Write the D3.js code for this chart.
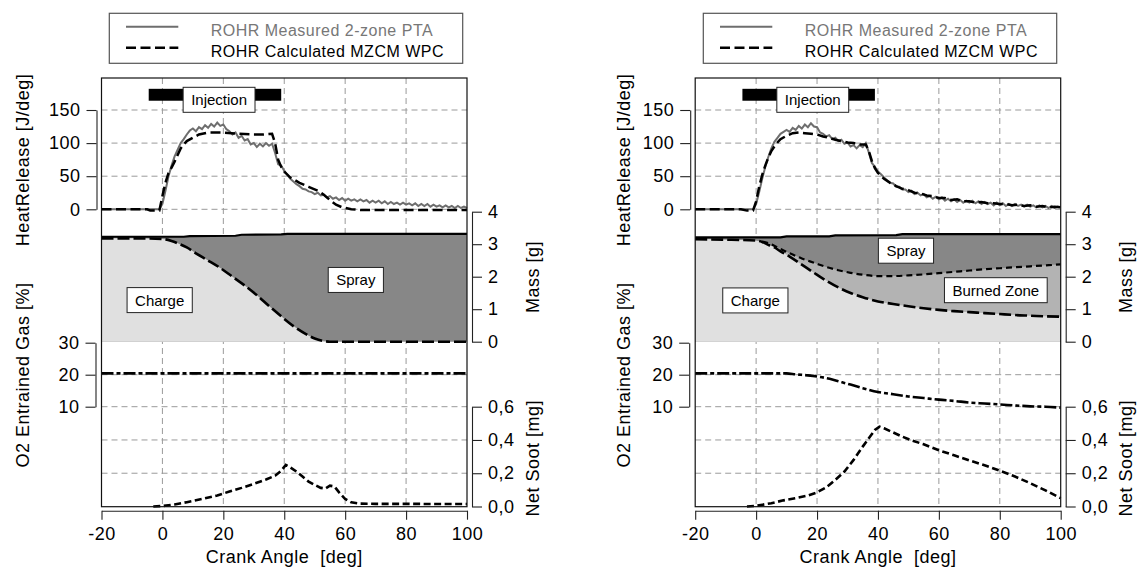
<!DOCTYPE html>
<html>
<head>
<meta charset="utf-8">
<script src="https://cdn.jsdelivr.net/npm/d3@7"></script>
<style>
  body { margin: 0; background: #fff; }
  svg { display: block; font-family: "Liberation Sans", Arial, Helvetica, sans-serif; }
  text { white-space: pre; }
</style>
</head>
<body>
<svg id="chart" width="1144" height="568"></svg>
<script>
// ---- tick values and labels ----
const crankTicks = [-20, 0, 20, 40, 60, 80, 100];
const crankGrid = [0, 20, 40, 60, 80];
const heatTicks = [0, 50, 100, 150];
const massTicks = [0, 1, 2, 3, 4];
const o2Ticks = [10, 20, 30];
const sootTicks = [0, 0.2, 0.4, 0.6];
const sootTickLabels = ["0,0", "0,2", "0,4", "0,6"];
const legendLabels = ["ROHR Measured 2-zone PTA", "ROHR Calculated MZCM WPC"];
const injection = [-4.5, 39];   // start / end of injection [deg]

// ---- measured rate of heat release, 1 deg steps from -20 to 100 deg ----
const measuredStart = -20;
const rohrMeasuredLeft = [
  0,0,0,0,0,0,0,0,0,0,0,0,0,0,0,0,0,0,0,0,
  8,28,50,66,80,90,100,106,113,119,122,118,124,121,127,123,129,125,131,126,
  128,121,118,113,116,108,111,104,106,98,100,94,99,95,100,96,99,85,68,66,
  58,52,46,42,38,35,31,30,27,26,23,25,21,22,18,20,16,18,14,17,
  13,16,13,15,12,15,12,14,10,13,10,13,9,12,8,11,8,10,7,10,
  7,9,6,9,5,8,5,8,4,7,4,6,3,6,3,5,2,5,2,4,2
];
const rohrMeasuredRight = [
  0,0,0,0,0,0,0,0,0,0,0,0,0,0,0,0,0,0,0,0,
  8,26,46,64,79,92,102,108,114,117,120,117,123,120,126,122,128,124,130,125,
  124,116,114,110,112,106,108,103,105,99,101,95,97,92,97,94,100,86,70,64,
  57,53,48,44,40,39,34,34,30,30,26,28,23,25,21,23,18,20,16,19,
  15,18,13,16,12,15,11,14,10,13,10,13,9,12,8,11,8,10,6,10,
  6,9,5,8,5,8,5,7,4,7,4,6,3,6,3,5,2,5,2,4,3
];

// ---- calculated rate of heat release [deg, J/deg] ----
const rohrCalcLeft = [
  [-20,0],[-5,0],[-4,-2],[-1,-2],[0,20],[1,40],[2,55],[3,63],[4,72],[5,82],[6,92],[7,98],
  [8,103],[10,108],[12,113],[15,116],[20,116],[25,114],[30,113],[33,113],[36,114],[37,100],
  [38,75],[39,64],[40,57],[42,48],[45,40],[48,34],[51,28],[53,22],[55,14],[57,7],[59,3],
  [62,0],[65,-1],[100,-1]
];
const rohrCalcRight = [
  [-20,0],[-5,0],[-3,-2],[-1,-2],[0,12],[1,34],[2,52],[3,66],[4,78],[5,88],[6,95],[7,101],
  [8,106],[10,111],[12,115],[14,116],[16,115],[18,114],[20,113],[22,110],[24,108],[26,105],
  [28,103],[30,101],[32,100],[34,98],[36,98],[37,88],[38,73],[39,62],[40,55],[42,46],[44,40],
  [46,35],[48,31],[50,29],[52,25],[54,24],[56,21],[58,20],[60,17],[62,17],[64,14],[66,15],
  [68,12],[70,12],[72,10],[74,11],[76,9],[78,9],[80,8],[82,8],[84,6],[86,7],[88,5],[90,6],
  [92,4],[94,5],[96,3],[98,4],[100,3]
];

// ---- zone masses [deg, g] ----
const massTotalLeft = [[-20,3.23],[7,3.23],[9,3.25],[24,3.26],[26,3.29],[39,3.30],[41,3.32],[100,3.32]];
const massChargeLeft = [
  [-20,3.18],[-10,3.18],[0,3.16],[3,3.1],[5,3.03],[8,2.9],[11,2.72],[15,2.5],[19,2.27],
  [23,2.0],[27,1.73],[31,1.43],[35,1.1],[39,0.78],[43,0.48],[47,0.24],[50,0.1],[53,0.02],
  [55,0],[100,0]
];
const massTotalRight = [[-20,3.21],[8,3.21],[10,3.24],[24,3.24],[26,3.27],[46,3.28],[48,3.31],[100,3.31]];
const massChargeRight = [
  [-20,3.15],[-10,3.14],[0,3.11],[2,3.07],[4,2.98],[6,2.9],[8,2.78],[11,2.62],[15,2.37],
  [19,2.12],[23,1.88],[27,1.67],[31,1.5],[35,1.37],[40,1.24],[45,1.16],[50,1.09],[55,1.03],
  [60,0.98],[65,0.94],[70,0.91],[75,0.88],[80,0.85],[85,0.82],[90,0.8],[95,0.78],[100,0.77]
];
const massBurnedTopRight = [
  [-20,3.15],[-10,3.14],[0,3.11],[2,3.08],[4,3.03],[7,2.9],[11,2.72],[15,2.56],[19,2.43],
  [23,2.3],[27,2.2],[31,2.12],[35,2.06],[40,2.02],[45,2.02],[50,2.04],[55,2.07],[60,2.11],
  [65,2.15],[70,2.19],[75,2.23],[80,2.26],[85,2.29],[90,2.32],[95,2.35],[100,2.38]
];

// ---- O2 in entrained gas [deg, %] ----
const o2Left = [[-20,20.4],[100,20.4]];
const o2Right = [
  [-20,20.4],[10,20.4],[13,20.1],[17,19.8],[21,19.3],[25,18.5],[28,17.7],[31,16.9],[35,15.8],
  [40,14.6],[45,13.9],[50,13.2],[55,12.7],[60,12.2],[65,11.8],[70,11.3],[75,11.0],[80,10.7],
  [85,10.4],[90,10.1],[95,10.0],[100,9.7]
];

// ---- net soot [deg, mg] ----
const sootLeft = [
  [-3,0],[0,0.003],[4,0.012],[8,0.026],[13,0.045],[18,0.066],[22,0.09],[26,0.112],[30,0.136],
  [34,0.162],[37,0.185],[39,0.215],[40.5,0.25],[42,0.235],[44,0.21],[46,0.18],[48,0.15],
  [50,0.13],[52,0.112],[53.5,0.108],[55,0.125],[56.5,0.12],[58,0.085],[60,0.045],[62,0.025],
  [65,0.017],[70,0.016],[80,0.016],[90,0.015],[100,0.015]
];
const sootRight = [
  [-3,0],[0,0.004],[5,0.02],[9,0.037],[13,0.05],[17,0.066],[20,0.085],[23,0.115],[26,0.16],
  [29,0.21],[32,0.28],[35,0.36],[37,0.41],[39,0.46],[40.5,0.48],[42,0.47],[45,0.445],[48,0.42],
  [51,0.398],[55,0.374],[60,0.338],[65,0.308],[70,0.277],[75,0.248],[80,0.215],[85,0.18],
  [90,0.14],[95,0.097],[100,0.05]
];

// ---- layout ----
const svg = d3.select("#chart");
const W = 365.5, TOP = 78, BOTTOM = 506.7;
const C = { spray: "#878787", burned: "#b3b3b3", charge: "#e0e0e0", grid: "#9a9a9a", measured: "#6e6e6e" };
const AXIS_FONT = 18, AXIS_SPACING = 0.5;

const panels = [
  {
    x0: 101.5, hrTitleX: 29, massTitleX: 539.3, legendX: 109.3,
    measured: rohrMeasuredLeft, calc: rohrCalcLeft,
    total: massTotalLeft, charge: massChargeLeft, burnedTop: null,
    o2: o2Left, soot: sootLeft,
    labels: [["Charge", -0.9, 1.28], ["Spray", 63.5, 1.9]]
  },
  {
    x0: 695.2, hrTitleX: 630, massTitleX: 1131.5, legendX: 703.3,
    measured: rohrMeasuredRight, calc: rohrCalcRight,
    total: massTotalRight, charge: massChargeRight, burnedTop: massBurnedTopRight,
    o2: o2Right, soot: sootRight,
    labels: [["Charge", -0.25, 1.27], ["Spray", 49.2, 2.8], ["Burned Zone", 78.7, 1.585]]
  }
];

function labelBox(g, text, cx, cy) {
  const box = g.append("rect").attr("fill", "#fff").attr("stroke", "#222").attr("stroke-width", 1);
  const t = g.append("text").attr("x", cx).attr("y", cy).attr("dy", "0.36em")
    .attr("text-anchor", "middle").attr("font-size", 15).attr("fill", "#000").text(text);
  const w = t.node().getComputedTextLength() + 16, h = 25;
  box.attr("x", cx - w / 2).attr("y", cy - h / 2).attr("width", w).attr("height", h);
}

function styleAxis(a) {
  a.attr("font-family", null).attr("font-size", AXIS_FONT);
  a.selectAll("path, line").attr("stroke", "#222").attr("stroke-width", 1.1);
  a.selectAll("text").attr("fill", "#000").attr("letter-spacing", AXIS_SPACING);
}

const plain = d => String(d);

function drawPanel(p) {
  const g = svg.append("g");
  const x = d3.scaleLinear().domain([-20, 100]).range([p.x0, p.x0 + W]);
  const hr = d3.scaleLinear().domain([0, 150]).range([209.3, 110]);
  const mass = d3.scaleLinear().domain([0, 4]).range([341.7, 211.7]);
  const o2 = d3.scaleLinear().domain([10, 30]).range([406.7, 342.7]);
  const soot = d3.scaleLinear().domain([0, 0.6]).range([506.5, 406.7]);

  // grid
  const grid = g.append("g").attr("stroke", C.grid).attr("stroke-width", 1).attr("stroke-dasharray", "6,4");
  crankGrid.forEach(a => grid.append("line").attr("x1", x(a)).attr("x2", x(a)).attr("y1", TOP).attr("y2", BOTTOM));
  const hlines = heatTicks.map(v => hr(v)).concat([o2(20)], sootTicks.slice(1).map(v => soot(v)));
  hlines.forEach(y => grid.append("line").attr("x1", x(-20)).attr("x2", x(100)).attr("y1", y).attr("y2", y));

  // zone mass fills, painted from the top zone downwards
  const area = d3.area().x(d => x(d[0])).y0(mass(0)).y1(d => mass(d[1]));
  g.append("path").datum(p.total).attr("d", area.curve(d3.curveLinear)).attr("fill", C.spray);
  if (p.burnedTop) g.append("path").datum(p.burnedTop).attr("d", area.curve(d3.curveMonotoneX)).attr("fill", C.burned);
  g.append("path").datum(p.charge).attr("d", area.curve(d3.curveMonotoneX)).attr("fill", C.charge);

  const massLine = d3.line().x(d => x(d[0])).y(d => mass(d[1]));
  g.append("path").datum(p.total).attr("d", massLine.curve(d3.curveLinear))
    .attr("fill", "none").attr("stroke", "#000").attr("stroke-width", 2.2);
  if (p.burnedTop) g.append("path").datum(p.burnedTop.filter(d => d[0] >= 2)).attr("d", massLine.curve(d3.curveMonotoneX))
    .attr("fill", "none").attr("stroke", "#000").attr("stroke-width", 2.2).attr("stroke-dasharray", "6,4");
  g.append("path").datum(p.charge).attr("d", massLine.curve(d3.curveMonotoneX))
    .attr("fill", "none").attr("stroke", "#000").attr("stroke-width", 2.6).attr("stroke-dasharray", "12,4");

  // heat release
  const measuredPts = p.measured.map((v, i) => [measuredStart + i, v]);
  const hrLine = d3.line().x(d => x(d[0])).y(d => hr(d[1]));
  g.append("path").datum(measuredPts).attr("d", hrLine)
    .attr("fill", "none").attr("stroke", C.measured).attr("stroke-width", 2);
  g.append("path").datum(p.calc).attr("d", hrLine)
    .attr("fill", "none").attr("stroke", "#000").attr("stroke-width", 2.5).attr("stroke-dasharray", "10,4.5");

  // O2 and soot
  g.append("path").datum(p.o2).attr("d", d3.line().x(d => x(d[0])).y(d => o2(d[1])).curve(d3.curveMonotoneX))
    .attr("fill", "none").attr("stroke", "#000").attr("stroke-width", 2.6).attr("stroke-dasharray", "12,3,4,3");
  g.append("path").datum(p.soot).attr("d", d3.line().x(d => x(d[0])).y(d => soot(d[1])))
    .attr("fill", "none").attr("stroke", "#000").attr("stroke-width", 2.6).attr("stroke-dasharray", "7,3.5");

  // injection bar
  g.append("rect").attr("x", x(injection[0])).attr("width", x(injection[1]) - x(injection[0]))
    .attr("y", hr(182)).attr("height", hr(164) - hr(182)).attr("fill", "#000");
  labelBox(g, "Injection", x(18.6), hr(165.4));
  p.labels.forEach(([t, a, m]) => labelBox(g, t, x(a), mass(m)));

  // frame
  g.append("rect").attr("x", p.x0).attr("y", TOP).attr("width", W).attr("height", BOTTOM - TOP)
    .attr("fill", "none").attr("stroke", "#111").attr("stroke-width", 1.2);

  // axes
  const ax = g.append("g").attr("transform", `translate(0,${BOTTOM + 4})`)
    .call(d3.axisBottom(x).tickValues(crankTicks).tickFormat(plain).tickSize(9).tickSizeOuter(0).tickPadding(8));
  const axHr = g.append("g").attr("transform", `translate(${p.x0 - 5},0)`)
    .call(d3.axisLeft(hr).tickValues(heatTicks).tickFormat(plain).tickSize(10).tickSizeOuter(0).tickPadding(6));
  const axO2 = g.append("g").attr("transform", `translate(${p.x0 - 6},0)`)
    .call(d3.axisLeft(o2).tickValues(o2Ticks).tickFormat(plain).tickSize(10).tickSizeOuter(0).tickPadding(6));
  const axMass = g.append("g").attr("transform", `translate(${p.x0 + W + 5},0)`)
    .call(d3.axisRight(mass).tickValues(massTicks).tickFormat(plain).tickSize(10).tickSizeOuter(0).tickPadding(6));
  const axSoot = g.append("g").attr("transform", `translate(${p.x0 + W + 5},0)`)
    .call(d3.axisRight(soot).tickValues(sootTicks).tickFormat((d, i) => sootTickLabels[i])
      .tickSize(10).tickSizeOuter(0).tickPadding(6));
  [ax, axHr, axO2, axMass, axSoot].forEach(styleAxis);

  // axis titles
  const title = (tx, ty, rot, txt) => g.append("text")
    .attr("transform", `translate(${tx},${ty}) rotate(${rot})`)
    .attr("text-anchor", "middle").attr("font-size", AXIS_FONT).attr("letter-spacing", AXIS_SPACING)
    .attr("fill", "#000").text(txt);
  title(x(40), 562.5, 0, "Crank Angle  [deg]");
  title(p.hrTitleX, 160, -90, "HeatRelease [J/deg]");
  title(p.hrTitleX, 375, -90, "O2 Entrained Gas [%]");
  title(p.massTitleX, 277, -90, "Mass [g]");
  title(p.massTitleX, 458.3, -90, "Net Soot [mg]");

  // legend
  const lg = g.append("g").attr("transform", `translate(${p.legendX},13.3)`);
  lg.append("rect").attr("width", 353.4).attr("height", 50).attr("fill", "#fff")
    .attr("stroke", "#555").attr("stroke-width", 1.2);
  lg.append("line").attr("x1", 16.7).attr("x2", 69).attr("y1", 13.4).attr("y2", 13.4)
    .attr("stroke", C.measured).attr("stroke-width", 2);
  lg.append("line").attr("x1", 16.7).attr("x2", 69).attr("y1", 34.4).attr("y2", 34.4)
    .attr("stroke", "#000").attr("stroke-width", 2.5).attr("stroke-dasharray", "10,4.5");
  lg.append("text").attr("x", 101.4).attr("y", 22.7).attr("font-size", 16).attr("letter-spacing", 0.5)
    .attr("fill", "#777").text(legendLabels[0]);
  lg.append("text").attr("x", 101.4).attr("y", 43.4).attr("font-size", 16).attr("letter-spacing", 0.5)
    .attr("fill", "#000").text(legendLabels[1]);
}

panels.forEach(drawPanel);
</script>
</body>
</html>
